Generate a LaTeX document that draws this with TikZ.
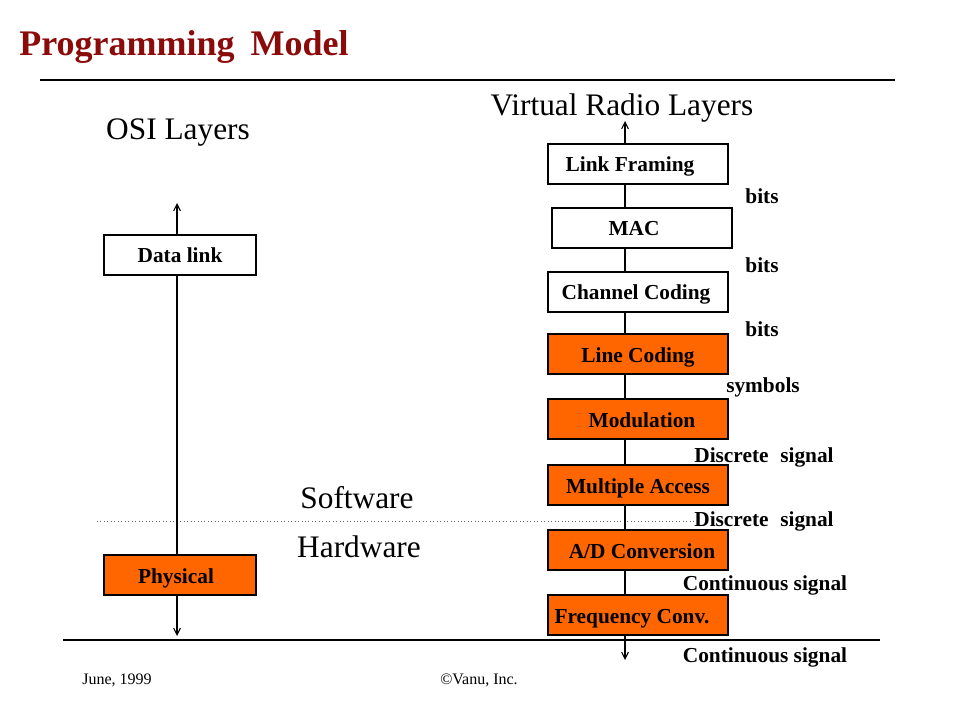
\documentclass[tikz,border=0pt]{standalone}
\usepackage{fontspec}
\setmainfont{Liberation Serif}
\usetikzlibrary{arrows.meta}
\definecolor{titlered}{HTML}{8B0A0A}
\definecolor{layerorange}{HTML}{FF6600}
\newcommand{\padr}[1]{\rule{#1}{0pt}}

\begin{document}
\begin{tikzpicture}[x=0.75pt, y=-0.75pt,
    layer/.style={draw, line width=0.9pt, minimum width=135pt, minimum height=30pt, inner sep=0pt,
                  text height=12pt, text depth=0pt, font=\fontsize{16}{18}\bfseries},
    hw/.style={layer, fill=layerorange},
    sig/.style={font=\fontsize{16}{18}\bfseries, inner sep=0pt},
    big/.style={font=\fontsize{23.5}{28}\selectfont, inner sep=0pt},
    flow/.style={line width=0.8pt},
    tip/.style={flow, -{Straight Barb[length=5pt, width=5pt]}}]
            \useasboundingbox (0,0) rectangle (960,720);
            %title and rules
            \node[anchor=west, inner sep=0pt, text=titlered, font=\fontsize{27}{32}\bfseries] (title) at (19,47) {Programming\hspace{0.2em} Model};
            \draw[line width=2.2pt] (40,80) -- (895,80);
            \draw[line width=0.8pt] (63,640) -- (880,640);
            \draw[dotted, line width=0.6pt, gray!80!black] (97,521) -- (700,521);

            \node[big] (osi) at (178,133) {OSI Layers};
            \node[big] (vrl) at (622,108) {Virtual Radio Layers};
            \node[big] (sw) at (357,498) {Software};
            \node[big] (hwtext) at (359,547) {Hardware};

            %OSI column
            \node[layer, minimum width=114pt] (dl) at (180,255) {Data link};
            \node[hw, minimum width=114pt] (phy) at (180,575) {Physical\padr{6pt}};
            \coordinate (dltop) at (177,203);
            \coordinate (phybot) at (177,636);
            \draw[tip] (dl.north -| dltop) -- (dltop);
            \draw[flow] (dl.south -| dltop) -- (phy.north -| dltop);
            \draw[tip] (phy.south -| dltop) -- (phybot);

            %virtual radio column
            \node[layer] (lf) at (638,164) {Link Framing\padr{12pt}};
            \node[layer] (mac) at (642,228) {MAC\padr{12pt}};
            \node[layer] (cc) at (638,292) {Channel Coding\padr{3pt}};
            \node[hw] (lc) at (638,354) {Line Coding};
            \node[hw] (mod) at (638,419) {\padr{6pt}Modulation};
            \node[hw] (ma) at (638,485) {Multiple Access};
            \node[hw] (ad) at (638,550) {\padr{6pt}A/D Conversion};
            \node[hw] (fc) at (638,615) {Frequency Conv.\padr{9pt}};
            \coordinate (vtop) at (625,121);
            \coordinate (vbot) at (625,660);
            \draw[tip] (lf.north -| vtop) -- (vtop);
            \foreach \a/\b in {lf/mac, mac/cc, cc/lc, lc/mod, mod/ma, ma/ad, ad/fc}
                \draw[flow] (\a.south -| vtop) -- (\b.north -| vtop);
            \draw[tip] (fc.south -| vtop) -- (vbot);

            %signal names
            \node[sig] (s1) at (762,196) {bits};
            \node[sig] (s2) at (762,265) {bits};
            \node[sig] (s3) at (762,329) {bits};
            \node[sig] (s4) at (763,387) {symbols};
            \node[sig] (s5) at (764,457) {Discrete\hspace{0.3em} signal};
            \node[sig] (s6) at (764,521) {Discrete\hspace{0.3em} signal};
            \node[sig] (s7) at (765,585) {Continuous signal};
            \node[sig] (s8) at (765,657) {Continuous signal};

            %footer
            \node[inner sep=0pt, font=\fontsize{12}{14}\selectfont] (date) at (117,680) {June, 1999};
            \node[inner sep=0pt, font=\fontsize{12}{14}\selectfont] (copy) at (479,680) {©Vanu, Inc.};
        \end{tikzpicture}
\end{document}
